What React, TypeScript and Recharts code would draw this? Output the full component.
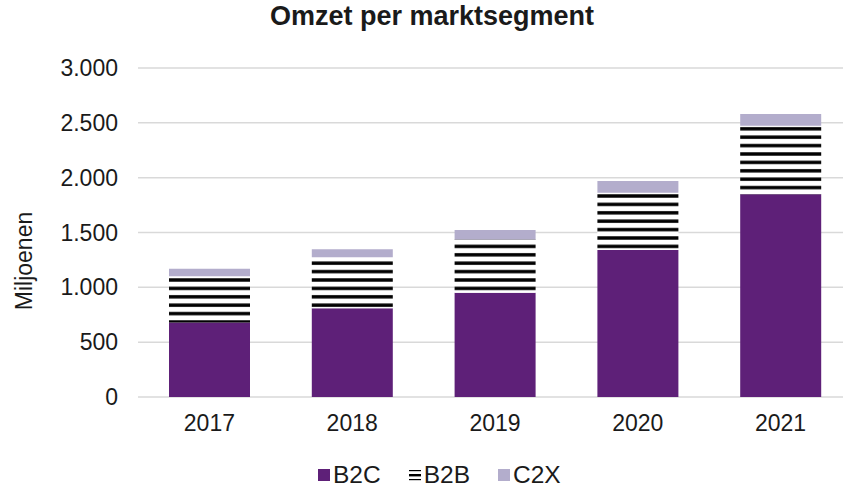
import { BarChart, Bar, XAxis, YAxis, CartesianGrid } from 'recharts';

const YEARS = ['2017', '2018', '2019', '2020', '2021'];
const B2C = [680, 810, 950, 1340, 1848];
const B2B = [420, 465, 487, 523, 626];
const C2X = [70, 73, 85, 107, 106];
const Y_TICKS = [0, 500, 1000, 1500, 2000, 2500, 3000];

const PURPLE = '#5e2078';
const LAVENDER = '#b3adcc';
const FONT = '"Liberation Sans", Arial, sans-serif';

const data = YEARS.map((year, i) => ({ year, b2c: B2C[i], b2b: B2B[i], c2x: C2X[i] }));

// Dutch thousands separator
const fmt = (n: number) => String(n).replace(/\B(?=(\d{3})+(?!\d))/g, '.');

const LegendItem = ({ label, icon }: { label: string; icon: React.ReactNode }) => (
  <div style={{ display: 'flex', alignItems: 'center', gap: 3 }}>
    {icon}
    <span>{label}</span>
  </div>
);

export default function App() {
  return (
    <div
      style={{
        position: 'absolute',
        left: 0,
        top: 0,
        width: 843,
        height: 487,
        overflow: 'hidden',
        background: '#fff',
        fontFamily: FONT,
        color: '#1a1a1a',
      }}
    >
      {/* Title */}
      <div
        style={{
          position: 'absolute',
          left: 0,
          top: 3,
          width: 864,
          textAlign: 'center',
          fontSize: 27,
          lineHeight: '27px',
          fontWeight: 700,
        }}
      >
        Omzet per marktsegment
      </div>

      {/* Y axis title */}
      <div
        style={{
          position: 'absolute',
          left: 24,
          top: 261,
          fontSize: 23,
          lineHeight: '23px',
          whiteSpace: 'nowrap',
          transform: 'translate(-50%, -50%) rotate(-90deg)',
        }}
      >
        Miljoenen
      </div>

      <BarChart width={852} height={487} data={data} margin={{ top: 68, right: 0, left: 0, bottom: 60 }}>
        <defs>
          <pattern id="b2bStripes" patternUnits="userSpaceOnUse" width={10} height={8.4}>
            <rect x={0} y={0} width={10} height={8.4} fill="#fff" />
            <rect x={0} y={1.1} width={10} height={3.4} fill="#000" />
          </pattern>
        </defs>
        <CartesianGrid vertical={false} stroke="#d9d9d9" strokeWidth={1.5} />
        <XAxis
          dataKey="year"
          height={30}
          axisLine={false}
          tickLine={false}
          tickSize={0}
          tickMargin={18}
          tick={{ fontSize: 23, fill: '#1a1a1a', fontFamily: FONT }}
        />
        <YAxis
          width={138}
          domain={[0, 3000]}
          ticks={Y_TICKS}
          tickFormatter={fmt}
          axisLine={false}
          tickLine={false}
          tickSize={0}
          tickMargin={20}
          tick={{ fontSize: 23, fill: '#1a1a1a', fontFamily: FONT }}
        />
        <Bar dataKey="b2c" stackId="s" barSize={81} fill={PURPLE} isAnimationActive={false} />
        <Bar dataKey="b2b" stackId="s" barSize={81} fill="url(#b2bStripes)" isAnimationActive={false} />
        <Bar dataKey="c2x" stackId="s" barSize={81} fill={LAVENDER} isAnimationActive={false} />
      </BarChart>

      {/* Legend */}
      <div
        style={{
          position: 'absolute',
          left: 318,
          top: 462,
          display: 'flex',
          gap: 28,
          fontSize: 24.5,
          lineHeight: '26px',
        }}
      >
        <LegendItem label="B2C" icon={<div style={{ width: 12, height: 12, background: PURPLE }} />} />
        <LegendItem
          label="B2B"
          icon={
            <svg width={12} height={12}>
              <rect x={0} y={1} width={12} height={1.2} fill="#000" />
              <rect x={0} y={5} width={12} height={2.4} fill="#000" />
              <rect x={0} y={10} width={12} height={1.2} fill="#000" />
            </svg>
          }
        />
        <LegendItem label="C2X" icon={<div style={{ width: 12, height: 12, background: LAVENDER }} />} />
      </div>
    </div>
  );
}
